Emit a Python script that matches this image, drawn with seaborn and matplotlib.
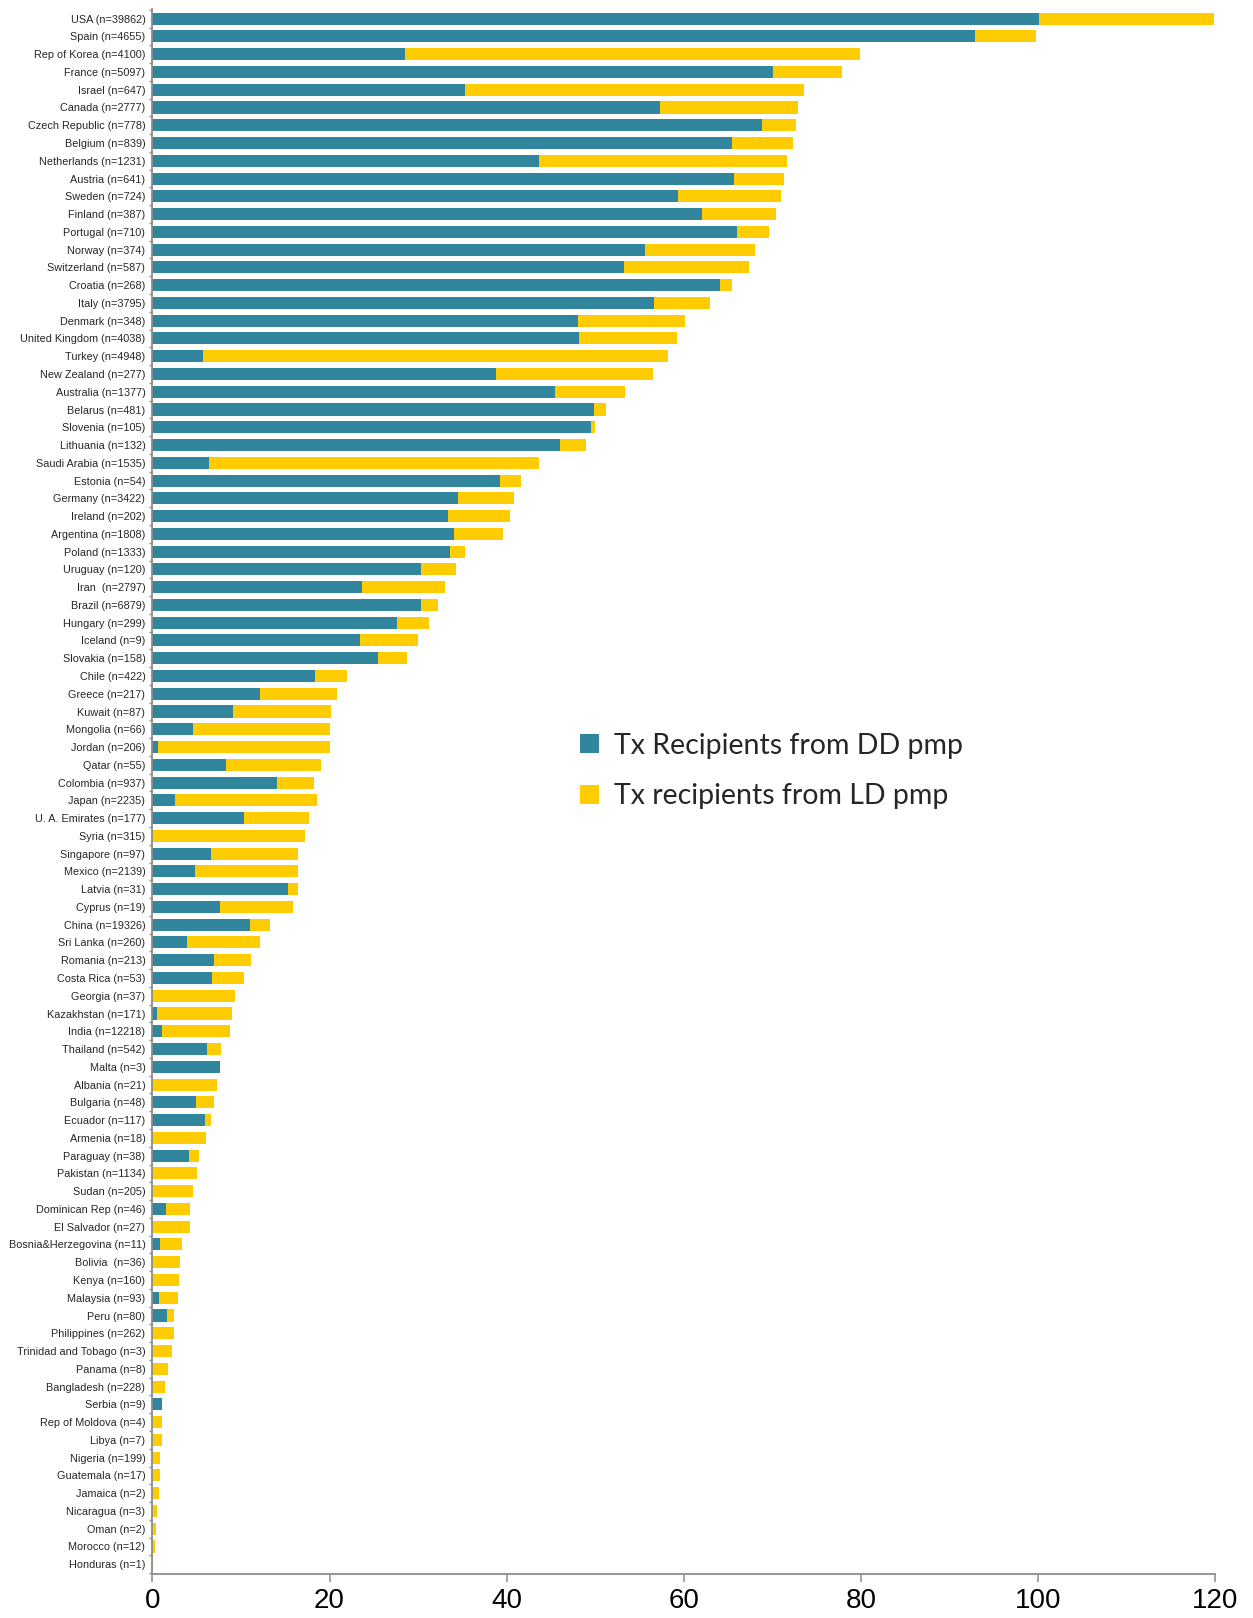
import matplotlib
matplotlib.use("Agg")
import matplotlib.pyplot as plt
from matplotlib import font_manager
from matplotlib.patches import Patch
import seaborn as sns
import pandas as pd

countries = [
    "USA (n=39862)", "Spain (n=4655)", "Rep of Korea (n=4100)", "France (n=5097)",
    "Israel (n=647)", "Canada (n=2777)", "Czech Republic (n=778)", "Belgium (n=839)",
    "Netherlands (n=1231)", "Austria (n=641)", "Sweden (n=724)", "Finland (n=387)",
    "Portugal (n=710)", "Norway (n=374)", "Switzerland (n=587)", "Croatia (n=268)",
    "Italy (n=3795)", "Denmark (n=348)", "United Kingdom (n=4038)", "Turkey (n=4948)",
    "New Zealand (n=277)", "Australia (n=1377)", "Belarus (n=481)", "Slovenia (n=105)",
    "Lithuania (n=132)", "Saudi Arabia (n=1535)", "Estonia (n=54)", "Germany (n=3422)",
    "Ireland (n=202)", "Argentina (n=1808)", "Poland (n=1333)", "Uruguay (n=120)",
    "Iran  (n=2797)", "Brazil (n=6879)", "Hungary (n=299)", "Iceland (n=9)",
    "Slovakia (n=158)", "Chile (n=422)", "Greece (n=217)", "Kuwait (n=87)",
    "Mongolia (n=66)", "Jordan (n=206)", "Qatar (n=55)", "Colombia (n=937)",
    "Japan (n=2235)", "U. A. Emirates (n=177)", "Syria (n=315)", "Singapore (n=97)",
    "Mexico (n=2139)", "Latvia (n=31)", "Cyprus (n=19)", "China (n=19326)",
    "Sri Lanka (n=260)", "Romania (n=213)", "Costa Rica (n=53)", "Georgia (n=37)",
    "Kazakhstan (n=171)", "India (n=12218)", "Thailand (n=542)", "Malta (n=3)",
    "Albania (n=21)", "Bulgaria (n=48)", "Ecuador (n=117)", "Armenia (n=18)",
    "Paraguay (n=38)", "Pakistan (n=1134)", "Sudan (n=205)", "Dominican Rep (n=46)",
    "El Salvador (n=27)", "Bosnia&Herzegovina (n=11)", "Bolivia  (n=36)", "Kenya (n=160)",
    "Malaysia (n=93)", "Peru (n=80)", "Philippines (n=262)", "Trinidad and Tobago (n=3)",
    "Panama (n=8)", "Bangladesh (n=228)", "Serbia (n=9)", "Rep of Moldova (n=4)",
    "Libya (n=7)", "Nigeria (n=199)", "Guatemala (n=17)", "Jamaica (n=2)",
    "Nicaragua (n=3)", "Oman (n=2)", "Morocco (n=12)", "Honduras (n=1)",
]

dd_pmp = [
    100.1, 92.8, 28.5, 70.0, 35.3, 57.3, 68.8, 65.4, 43.6, 65.6, 59.3, 62.0,
    66.0, 55.6, 53.2, 64.1, 56.6, 48.1, 48.2, 5.7, 38.8, 45.5, 49.9, 49.5,
    46.0, 6.4, 39.3, 34.5, 33.4, 34.0, 33.6, 30.3, 23.7, 30.3, 27.6, 23.4,
    25.5, 18.4, 12.2, 9.1, 4.6, 0.6, 8.3, 14.1, 2.6, 10.4, 0.0, 6.6,
    4.8, 15.3, 7.6, 11.0, 3.9, 7.0, 6.7, 0.0, 0.5, 1.1, 6.2, 7.6,
    0.0, 4.9, 5.9, 0.0, 4.1, 0.0, 0.0, 1.6, 0.0, 0.9, 0.0, 0.0,
    0.7, 1.65, 0.0, 0.0, 0.0, 0.0, 1.1, 0.0, 0.0, 0.0, 0.0, 0.0,
    0.0, 0.0, 0.0, 0.0,
]

ld_pmp = [
    19.7, 6.9, 51.4, 7.9, 38.2, 15.6, 3.8, 6.9, 28.0, 5.7, 11.7, 8.4,
    3.6, 12.4, 14.2, 1.3, 6.3, 12.0, 11.0, 52.5, 17.7, 7.9, 1.3, 0.5,
    2.9, 37.2, 2.3, 6.3, 7.0, 5.6, 1.7, 4.0, 9.3, 1.9, 3.6, 6.6,
    3.3, 3.6, 8.7, 11.1, 15.4, 19.4, 10.7, 4.1, 16.0, 7.3, 17.2, 9.9,
    11.7, 1.1, 8.3, 2.3, 8.2, 4.1, 3.7, 9.3, 8.5, 7.7, 1.5, 0.0,
    7.3, 2.1, 0.7, 6.1, 1.2, 5.1, 4.6, 2.6, 4.2, 2.5, 3.1, 3.0,
    2.2, 0.75, 2.4, 2.2, 1.8, 1.4, 0.0, 1.05, 1.05, 0.9, 0.9, 0.7,
    0.5, 0.4, 0.35, 0.1,
]

x_ticks = [0, 20, 40, 60, 80, 100, 120]
legend_labels = ["Tx Recipients from DD pmp", "Tx recipients from LD pmp"]

TEAL = "#31859C"
YELLOW = "#FFCC00"
AXIS_GRAY = "#8C8C8C"

sns.set_theme(style="white")
available = {f.name for f in font_manager.fontManager.ttflist}
narrow = "Liberation Sans Narrow" in available
label_family = ["Liberation Sans Narrow", "Liberation Sans", "DejaVu Sans"] if narrow else ["Liberation Sans", "DejaVu Sans"]
plt.rcParams["font.family"] = ["Liberation Sans", "DejaVu Sans"]

df = pd.DataFrame({"country": countries, "dd": dd_pmp, "ld": ld_pmp})
df["total"] = df["dd"] + df["ld"]

fig = plt.figure(figsize=(12.53, 16.18), dpi=100)
ax = fig.add_axes([152.3 / 1253, 1 - 1574 / 1618, (1215.5 - 152.3) / 1253, (1574 - 8.9) / 1618])

sns.barplot(data=df, x="total", y="country", order=countries, color=YELLOW,
            saturation=1, width=0.68, errorbar=None, linewidth=0, orient="h", ax=ax)
sns.barplot(data=df, x="dd", y="country", order=countries, color=TEAL,
            saturation=1, width=0.68, errorbar=None, linewidth=0, orient="h", ax=ax)

n = len(countries)
ax.set_xlim(0, 120)
ax.set_ylim(n - 1 + 0.55, -0.55)
ax.set_xlabel("")
ax.set_ylabel("")
ax.set_xticks(x_ticks)
ax.set_xticklabels([str(t) for t in x_ticks])

for s in ["top", "right"]:
    ax.spines[s].set_visible(False)
for s in ["left", "bottom"]:
    ax.spines[s].set_color(AXIS_GRAY)
    ax.spines[s].set_linewidth(1.3)

ax.tick_params(axis="x", which="major", direction="out", length=6, width=1.1,
               color=AXIS_GRAY, pad=4, labelsize=22 if narrow else 20, labelcolor="black",
               bottom=True)
for lab in ax.get_xticklabels():
    lab.set_family(label_family)

ax.tick_params(axis="y", which="major", length=0, pad=5,
               labelsize=9.4 if narrow else 7.8, labelcolor="#262626", left=True)
for lab in ax.get_yticklabels():
    lab.set_family(label_family)

ax.set_yticks([i + 0.5 for i in range(-1, n)], minor=True)
ax.tick_params(axis="y", which="minor", direction="out", length=2.5, width=1.0,
               color=AXIS_GRAY, left=True)

handles = [Patch(facecolor=TEAL, edgecolor="none"), Patch(facecolor=YELLOW, edgecolor="none")]
ax.legend(handles, legend_labels, loc="center left",
          bbox_to_anchor=(580 / 1253, 1 - 771 / 1618), bbox_transform=fig.transFigure,
          frameon=False, borderpad=0, borderaxespad=0,
          prop={"family": ["Lato", "Liberation Sans", "DejaVu Sans"], "size": 20.5},
          handlelength=0.65, handleheight=0.65, handletextpad=0.55, labelspacing=0.85)

fig.savefig("out.png", dpi=100)
